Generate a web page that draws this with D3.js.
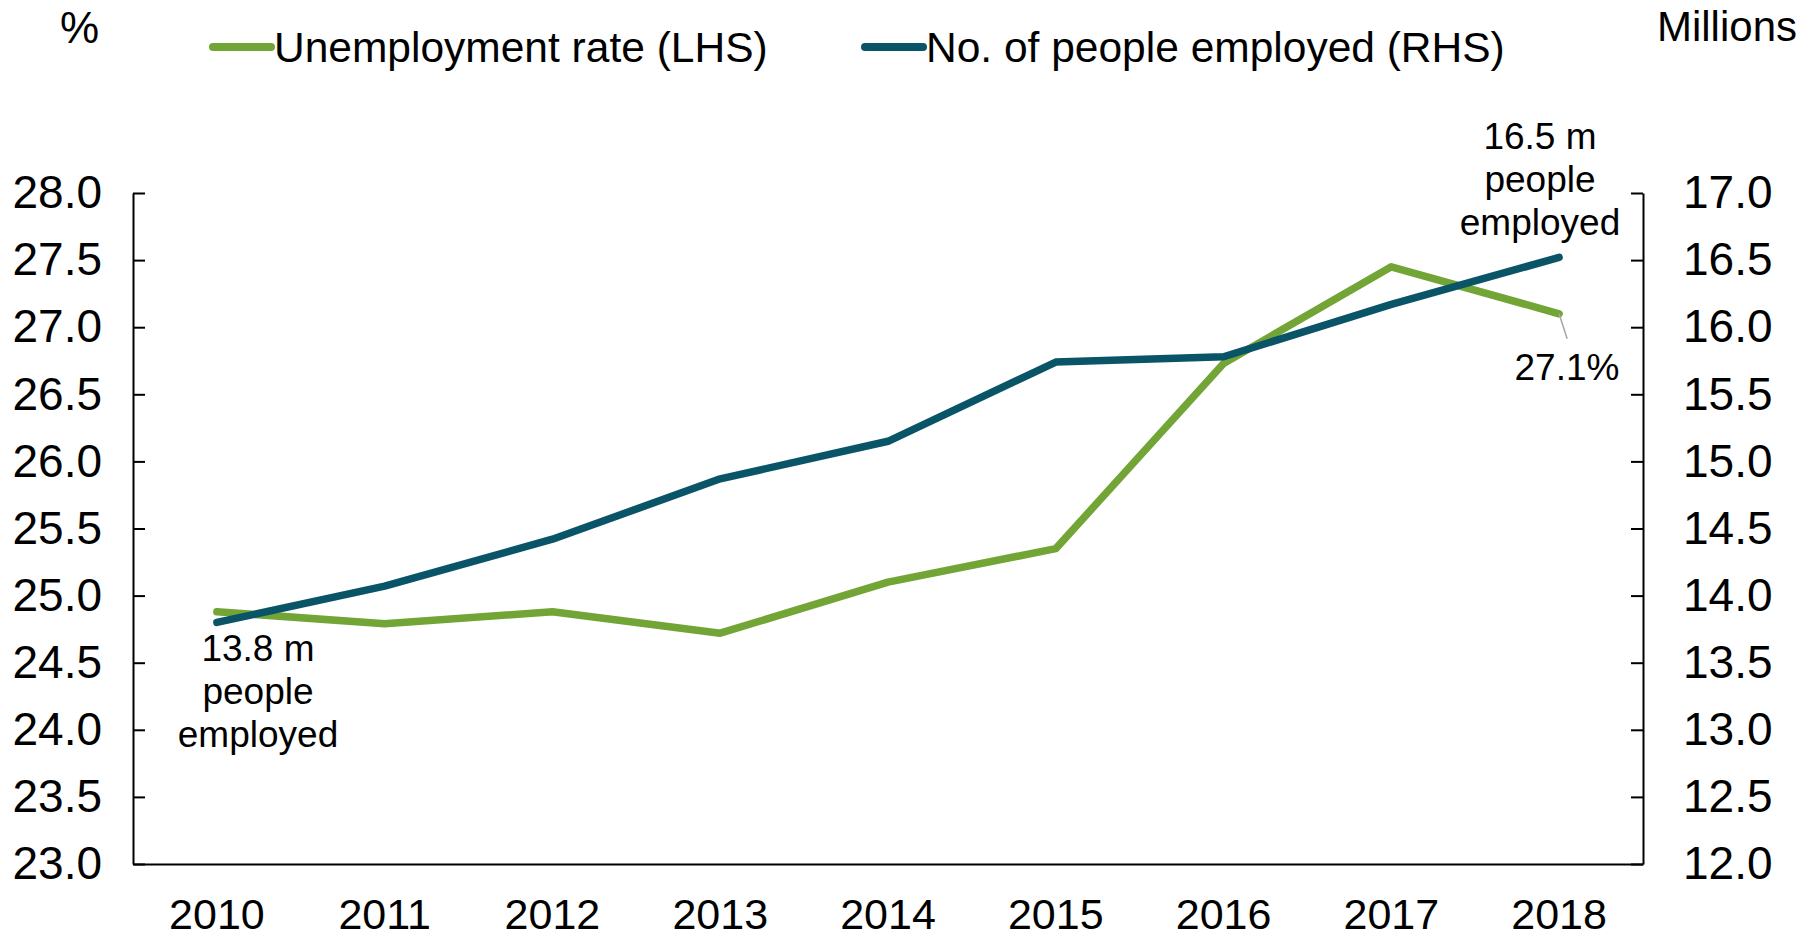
<!DOCTYPE html>
<html>
<head>
<meta charset="utf-8">
<script src="https://cdn.jsdelivr.net/npm/d3@7/dist/d3.min.js"></script>
<style>
  html, body { margin: 0; padding: 0; background: #fff; }
  svg { display: block; font-family: "Liberation Sans", Arial, sans-serif; }
</style>
</head>
<body>
<svg id="chart" width="1820" height="938"></svg>
<script>
// Years on the x axis
const years = ["2010", "2011", "2012", "2013", "2014", "2015", "2016", "2017", "2018"];
// Unemployment rate, % (left axis)
const unemploymentRate = [24.88, 24.79, 24.88, 24.72, 25.10, 25.35, 26.73, 27.45, 27.10];
// Number of people employed, millions (right axis)
const peopleEmployed = [13.80, 14.07, 14.42, 14.87, 15.15, 15.74, 15.78, 16.17, 16.52];
// Axis tick values
const leftTicks = [23.0, 23.5, 24.0, 24.5, 25.0, 25.5, 26.0, 26.5, 27.0, 27.5, 28.0];
const rightTicks = [12.0, 12.5, 13.0, 13.5, 14.0, 14.5, 15.0, 15.5, 16.0, 16.5, 17.0];
// Series names
const seriesNames = ["Unemployment rate (LHS)", "No. of people employed (RHS)"];

const GREEN = "#72A535";
const TEAL = "#0A5468";

const svg = d3.select("#chart");
const plot = { left: 133, right: 1643, top: 193, bottom: 864 };

const x = d3.scaleBand().domain(years).range([plot.left, plot.right]);
const cx = d => x(d) + x.bandwidth() / 2;
const yL = d3.scaleLinear().domain([23, 28]).range([plot.bottom, plot.top]);
const yR = d3.scaleLinear().domain([12, 17]).range([plot.bottom, plot.top]);

// Left axis
const gL = svg.append("g").attr("transform", `translate(${plot.left},0)`)
  .call(d3.axisLeft(yL).tickValues(leftTicks).tickFormat(d3.format(".1f"))
    .tickSizeInner(-12).tickSizeOuter(0).tickPadding(31));
// Right axis
const gR = svg.append("g").attr("transform", `translate(${plot.right},0)`)
  .call(d3.axisRight(yR).tickValues(rightTicks).tickFormat(d3.format(".1f"))
    .tickSizeInner(-12).tickSizeOuter(0).tickPadding(40));
// Bottom axis
const gB = svg.append("g").attr("transform", `translate(0,${plot.bottom})`)
  .call(d3.axisBottom(x).tickSize(0).tickPadding(34));

[gL, gR, gB].forEach(g => {
  g.selectAll("path.domain").attr("stroke", "#000").attr("stroke-width", 2);
  g.selectAll(".tick line").attr("stroke", "#000").attr("stroke-width", 2);
  g.selectAll("text").attr("fill", "#000")
    .attr("font-family", "Liberation Sans, Arial, sans-serif");
});
gL.selectAll("text").attr("font-size", 46);
gR.selectAll("text").attr("font-size", 46);
gB.selectAll("text").attr("font-size", 43).attr("dy", "0.71em");

// Lines
const lineL = d3.line().x((d, i) => cx(years[i])).y(d => yL(d));
const lineR = d3.line().x((d, i) => cx(years[i])).y(d => yR(d));

svg.append("path").datum(unemploymentRate)
  .attr("d", lineL).attr("fill", "none").attr("stroke", GREEN)
  .attr("stroke-width", 7.5).attr("stroke-linecap", "round").attr("stroke-linejoin", "round");
svg.append("path").datum(peopleEmployed)
  .attr("d", lineR).attr("fill", "none").attr("stroke", TEAL)
  .attr("stroke-width", 7.5).attr("stroke-linecap", "round").attr("stroke-linejoin", "round");

// Axis unit labels
svg.append("text").attr("x", 60).attr("y", 43).attr("font-size", 44).text("%");
svg.append("text").attr("x", 1797).attr("y", 41).attr("font-size", 42)
  .attr("text-anchor", "end").text("Millions");

// Legend
const legend = [
  { name: seriesNames[0], color: GREEN, x0: 213 },
  { name: seriesNames[1], color: TEAL, x0: 865 }
];
legend.forEach(l => {
  svg.append("line").attr("x1", l.x0).attr("x2", l.x0 + 58).attr("y1", 47).attr("y2", 47)
    .attr("stroke", l.color).attr("stroke-width", 8).attr("stroke-linecap", "round");
  svg.append("text").attr("x", l.x0 + 61).attr("y", 47).attr("dy", "0.35em")
    .attr("font-size", 42.5).text(l.name);
});

// Annotations
function multiline(lines, xc, y0, step) {
  const t = svg.append("text").attr("text-anchor", "middle").attr("font-size", 37);
  lines.forEach((s, i) => t.append("tspan").attr("x", xc).attr("y", y0 + i * step)
    .attr("dy", "0.35em").text(s));
}
const last = years.length - 1;
multiline([`${peopleEmployed[last].toFixed(1)} m`, "people", "employed"], 1540, 136, 43);
multiline([`${peopleEmployed[0].toFixed(1)} m`, "people", "employed"], 258, 648, 43);

// Unemployment end label with a leader line
const ex = cx(years[last]), ey = yL(unemploymentRate[last]);
svg.append("line").attr("x1", ex).attr("y1", ey).attr("x2", ex + 8).attr("y2", ey + 25)
  .attr("stroke", "#A6A6A6").attr("stroke-width", 1.5);
svg.append("text").attr("x", 1567).attr("y", 367).attr("dy", "0.35em")
  .attr("text-anchor", "middle").attr("font-size", 37)
  .text(`${unemploymentRate[last].toFixed(1)}%`);
</script>
</body>
</html>
